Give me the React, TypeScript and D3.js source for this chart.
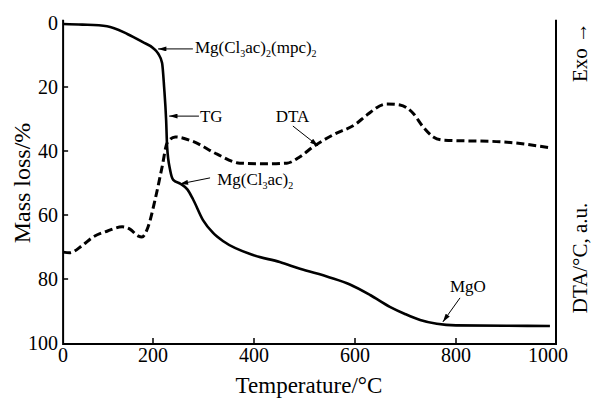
import React from 'react';
import * as d3 from 'd3';

const W = 593;
const H = 399;

// TG curve: temperature (°C) -> mass loss (%)
const tgTemp = [22, 60, 109, 150, 180, 200, 210, 218, 222, 226, 228, 234, 240, 255, 268, 279, 299, 319, 340, 398, 451, 491, 550, 590, 630, 669, 700, 729, 762, 800, 900, 986];
const tgLoss = [0.3, 0.5, 1.0, 3.5, 6.0, 7.8, 9.5, 12.5, 20, 30.3, 38.8, 46, 49, 50.3, 52, 55, 61.6, 65.6, 68.3, 72.5, 74.7, 76.8, 79.5, 81.7, 85, 88.7, 91, 92.8, 94, 94.5, 94.6, 94.7];

// DTA curve (arbitrary units, drawn on the same vertical span)
const dtaTemp = [22, 35, 60, 81, 110, 139, 155, 170, 178, 190, 204, 218, 228, 244, 279, 327, 372, 420, 465, 491, 517, 556, 603, 623, 663, 689, 715, 735, 755, 774, 887, 986];
const dtaVal = [71.6, 71.8, 69.5, 66.9, 65, 63.7, 64.5, 66.5, 66.9, 63.8, 55.3, 45, 37.5, 35.6, 37, 41, 43.8, 44, 43.8, 41.8, 38.7, 35, 31.4, 28.8, 25.3, 25.6, 28.2, 32.5, 35.6, 36.6, 37.1, 39];

const xTicks = [0, 200, 400, 600, 800, 1000];
const yTicks = [0, 20, 40, 60, 80, 100];

const FONT = '"Liberation Serif", "Times New Roman", serif';

// label, arrow tail, arrow tip, text anchor point (all in data units: °C, %)
const annotations = [
  { parts: [['Mg(Cl', ''], ['3', 'sub'], ['ac)', ''], ['2', 'sub'], ['(mpc)', ''], ['2', 'sub']], tail: [279, 8.1], tip: [210, 8.1], at: [283, 9.4] },
  { parts: [['TG', '']], tail: [291, 29.1], tip: [232, 29.1], at: [293, 30.9] },
  { parts: [['DTA', '']], tail: [477, 32.2], tip: [527, 38.4], at: [443, 30.9] },
  { parts: [['Mg(Cl', ''], ['3', 'sub'], ['ac)', ''], ['2', 'sub']], tail: [313, 48.4], tip: [253, 50.3], at: [327, 50.6] },
  { parts: [['MgO', '']], tail: [808, 85.9], tip: [774, 93.4], at: [788, 84] },
];

export default function App() {
  const x = d3.scaleLinear().domain([0, 1000]).range([52, 557]);
  const y = d3.scaleLinear().domain([0, 100]).range([23, 343]);

  const left = x(tgTemp[0]);
  const right = x(1000) - 1;
  const top = y(-1);
  const bottom = y(100) + 1;

  const tgLine = d3.line<number>()
    .x((d, i) => x(tgTemp[i]))
    .y(d => y(d))
    .curve(d3.curveMonotoneX);
  const dtaLine = d3.line<number>()
    .x((d, i) => x(dtaTemp[i]))
    .y(d => y(d))
    .curve(d3.curveMonotoneX);

  return (
    <svg width={W} height={H} style={{ position: 'absolute', left: 0, top: 0, background: '#fff' }} fontFamily={FONT}>
      <defs>
        <marker id="ah" viewBox="0 0 10 6" refX="10" refY="3" markerWidth="9" markerHeight="5" markerUnits="userSpaceOnUse" orient="auto">
          <path d="M0,0 L10,3 L0,6 Z" fill="#000" />
        </marker>
      </defs>

      {/* curves */}
      <path d={dtaLine(dtaVal) || ''} fill="none" stroke="#000" strokeWidth={3} strokeDasharray="8,4" />
      <path d={tgLine(tgLoss) || ''} fill="none" stroke="#000" strokeWidth={2.6} />

      {/* frame */}
      <path d={`M${left},${top} V${bottom} H${right} V${top}`} fill="none" stroke="#000" strokeWidth={2} />

      {/* x ticks (inward) */}
      {xTicks.filter(t => t > 0 && t < 1000).map(t => (
        <line key={'xt' + t} x1={x(t)} x2={x(t)} y1={bottom} y2={bottom - 6} stroke="#000" strokeWidth={1.5} />
      ))}
      {xTicks.map((t, i) => {
        let px = x(t);
        if (i === 0) px = left;
        if (i === xTicks.length - 1) px = x(t) - 9;
        return (
          <text key={'xl' + t} x={px} y={362} fontSize={20} textAnchor="middle">{t}</text>
        );
      })}

      {/* y ticks (inward) */}
      {yTicks.filter(t => t > 0 && t < 100).map(t => (
        <line key={'yt' + t} x1={left} x2={left + 5} y1={y(t)} y2={y(t)} stroke="#000" strokeWidth={1.5} />
      ))}
      {yTicks.map(t => (
        <text key={'yl' + t} x={58} y={y(t)} dy="0.35em" fontSize={20} textAnchor="end">{t}</text>
      ))}

      {/* axis titles */}
      <text x={309} y={393} fontSize={23} textAnchor="middle">Temperature/°C</text>
      <text transform={`translate(30,183) rotate(-90)`} fontSize={24} textAnchor="middle">Mass loss/%</text>
      <text transform={`translate(587,52) rotate(-90)`} fontSize={21} textAnchor="middle">Exo →</text>
      <text transform={`translate(587,258) rotate(-90)`} fontSize={21} textAnchor="middle">DTA/°C, a.u.</text>

      {/* annotations */}
      {annotations.map((a, i) => (
        <g key={'a' + i}>
          <line x1={x(a.tail[0])} y1={y(a.tail[1])} x2={x(a.tip[0])} y2={y(a.tip[1])} stroke="#000" strokeWidth={1} markerEnd="url(#ah)" />
          <text x={x(a.at[0])} y={y(a.at[1])} fontSize={17}>
            {a.parts.map((p, j) => (
              p[1] === 'sub'
                ? <tspan key={j} fontSize={10} dy={4}>{p[0]}</tspan>
                : <tspan key={j} dy={j > 0 && a.parts[j - 1][1] === 'sub' ? -4 : 0}>{p[0]}</tspan>
            ))}
          </text>
        </g>
      ))}
    </svg>
  );
}
